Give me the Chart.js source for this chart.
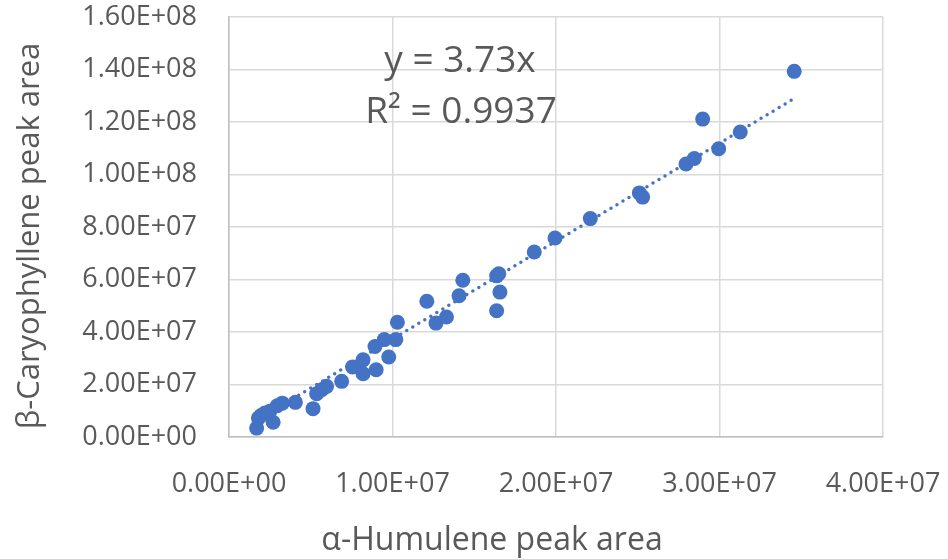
<!DOCTYPE html>
<html lang="en">
<head>
    <meta charset="UTF-8">
    <title>caryophyllene vs humulene</title>
    <style>
        html, body { margin: 0; padding: 0; background: #fff; }
        #wrap { width: 948px; height: 559px; }
    </style>
</head>
<body>
    <div id="wrap">
        <canvas id="myChart"></canvas>
    </div>

    <script src="https://cdn.jsdelivr.net/npm/chart.js"></script>
    <script>
        // alpha-humulene peak area (x) and beta-caryophyllene peak area (y)
        const humulene = [
            1.69e6, 1.80e6, 1.96e6, 2.20e6, 2.50e6, 2.70e6, 2.95e6, 3.26e6, 4.06e6, 5.14e6,
            5.36e6, 5.67e6, 5.97e6, 6.89e6, 7.56e6, 8.20e6, 8.20e6, 9.00e6, 8.93e6, 9.50e6,
            10.2e6, 9.77e6, 10.3e6, 12.1e6, 12.66e6, 13.3e6, 14.07e6, 14.3e6, 16.37e6, 16.5e6,
            16.57e6, 16.37e6, 18.67e6, 19.94e6, 22.1e6, 25.1e6, 25.3e6, 27.95e6, 28.46e6, 28.97e6,
            29.95e6, 31.27e6, 34.57e6
        ];
        const caryophyllene = [
            3.4e6, 7.2e6, 8.2e6, 9.1e6, 9.8e6, 5.6e6, 11.9e6, 12.9e6, 13.2e6, 10.8e6,
            16.5e6, 18.0e6, 19.3e6, 21.2e6, 26.7e6, 29.4e6, 24.1e6, 25.6e6, 34.5e6, 37.1e6,
            37.1e6, 30.5e6, 43.7e6, 51.7e6, 43.4e6, 45.7e6, 53.8e6, 59.7e6, 61.4e6, 62.2e6,
            55.2e6, 48.1e6, 70.5e6, 75.8e6, 83.2e6, 93.0e6, 91.4e6, 104.0e6, 106.1e6, 121.1e6,
            109.8e6, 116.2e6, 139.3e6
        ];

        const slope = 3.73;
        const equationLines = ['y = 3.73x', 'R² = 0.9937'];

        const xTickLabels = ['0.00E+00', '1.00E+07', '2.00E+07', '3.00E+07', '4.00E+07'];
        const yTickLabels = ['0.00E+00', '2.00E+07', '4.00E+07', '6.00E+07', '8.00E+07',
                             '1.00E+08', '1.20E+08', '1.40E+08', '1.60E+08'];

        const xTitle = 'α-Humulene peak area';
        const yTitle = 'β-Caryophyllene peak area';

        const blue = '#4472C4';
        const grey = '#595959';
        const fontFamily = '"Open Sans", "Noto Sans", sans-serif';

        let points = humulene.map((x, i) => ({ x: x, y: caryophyllene[i] }));
        let xMin = Math.min(...humulene);
        let xMax = Math.max(...humulene);
        let trend = [
            { x: xMin, y: slope * xMin },
            { x: xMax, y: slope * xMax },
        ];

        // equation label and axis titles
        const textPlugin = {
            id: 'texts',
            afterDraw(chart) {
                const c = chart.ctx;
                c.save();
                c.fillStyle = grey;
                c.textAlign = 'center';
                c.textBaseline = 'middle';
                c.font = '37px ' + fontFamily;
                c.fillText(equationLines[0], 460, 61);
                c.fillText(equationLines[1], 461, 112);

                c.font = '32px ' + fontFamily;
                c.fillText(xTitle, 492, 541);

                c.font = '31px ' + fontFamily;
                c.translate(30, 236);
                c.rotate(-Math.PI / 2);
                c.fillText(yTitle, 0, 0);
                c.restore();
            }
        };

        const ctx = document.getElementById('myChart');

        let chart = new Chart(ctx, {
            type: 'scatter',
            data: {
                datasets: [
                    {
                        label: 'data',
                        data: points,
                        backgroundColor: blue,
                        borderColor: blue,
                        pointRadius: 7.5,
                        pointHoverRadius: 7.5,
                        borderWidth: 0,
                        order: 2,
                    },
                    {
                        label: 'trend',
                        type: 'line',
                        data: trend,
                        borderColor: blue,
                        borderWidth: 3.5,
                        borderDash: [0, 7],
                        borderCapStyle: 'round',
                        pointRadius: 0,
                        fill: false,
                        order: 1,
                    },
                ],
            },
            options: {
                responsive: true,
                maintainAspectRatio: false,
                animation: false,
                layout: {
                    padding: { top: 17, right: 65, left: 0, bottom: 0 },
                },
                plugins: {
                    legend: { display: false },
                    tooltip: { enabled: false },
                },
                scales: {
                    x: {
                        type: 'linear',
                        min: 0,
                        max: 4e7,
                        afterFit: (s) => {
                            s.height = 122;
                            s.paddingLeft = 0;
                            s.paddingRight = 0;
                        },
                        afterBuildTicks: (s) => {
                            s.ticks = xTickLabels.map((t, i) => ({ value: i * 1e7 }));
                        },
                        ticks: {
                            color: grey,
                            font: { size: 27, family: fontFamily },
                            padding: 31,
                            maxRotation: 0,
                            callback: (v, i) => xTickLabels[i],
                        },
                        grid: { color: '#d9d9d9', lineWidth: 1.5, drawTicks: false },
                        border: { color: '#bfbfbf', width: 1.5 },
                    },
                    y: {
                        type: 'linear',
                        min: 0,
                        max: 1.6e8,
                        afterFit: (s) => {
                            s.width = 229;
                            s.paddingTop = 0;
                            s.paddingBottom = 0;
                        },
                        afterBuildTicks: (s) => {
                            s.ticks = yTickLabels.map((t, i) => ({ value: i * 2e7 }));
                        },
                        ticks: {
                            color: grey,
                            font: { size: 27, family: fontFamily },
                            padding: 32,
                            callback: (v, i) => yTickLabels[i],
                        },
                        grid: { color: '#d9d9d9', lineWidth: 1.5, drawTicks: false },
                        border: { color: '#bfbfbf', width: 1.5 },
                    },
                },
            },
            plugins: [textPlugin],
        });
    </script>
</body>
</html>
